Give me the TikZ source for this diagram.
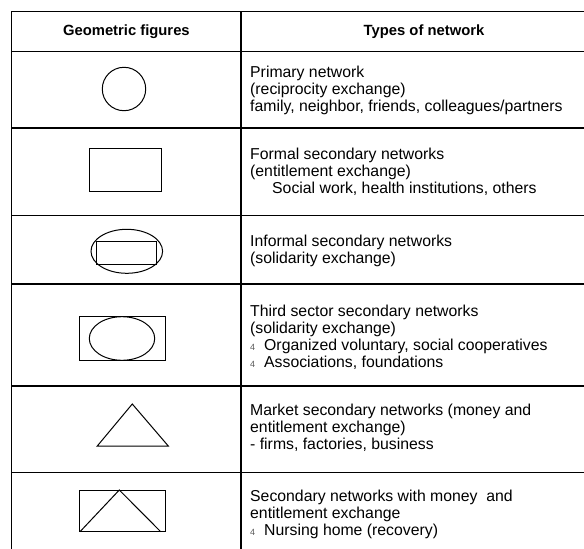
\documentclass[tikz,border=0pt]{standalone}
\usepackage{fontspec}
\setmainfont{Liberation Sans}
\definecolor{bulletgray}{RGB}{90,90,90}
\newcommand{\bul}{\makebox[14pt][l]{\fontsize{9}{9}\selectfont\color{bulletgray}4}}
\begin{document}
\begin{tikzpicture}[x=1pt,y=-1pt,
  grid/.style={line width=1.2pt},
  fig/.style={line width=1pt},
  cell/.style={anchor=west, align=left, inner sep=0pt, font=\fontsize{15.8}{17}\selectfont},
  head/.style={inner sep=0pt, font=\fontsize{14.8}{17}\selectfont\bfseries}]
\useasboundingbox (0,0) rectangle (584,549);
% table rules
\draw[grid] (584,11.7) -- (11.7,11.7) -- (11.7,549);
\draw[grid] (241,11.7) -- (241,549);
\foreach \yy in {51.3,128,215.7,284,386,472.3}
  \draw[grid] (11.7,\yy) -- (584,\yy);
% headers
\node[head] (h1) at (126.4,31.8) {Geometric figures};
\node[head] (h2) at (424,31.8) {Types of network};
% figures
\draw[fig] (124,89) circle [radius=21.7];
\draw[fig] (89.7,148.3) rectangle (161.3,191);
\draw[fig] (126.8,251.3) ellipse [x radius=35.8, y radius=22];
\draw[fig] (96,241) rectangle (156.7,264.3);
\draw[fig] (79,316.7) rectangle (165.3,360.3);
\draw[fig] (122,338.5) ellipse [x radius=32.7, y radius=21.8];
\draw[fig] (97.3,446) -- (132.3,404) -- (168.3,446) -- cycle;
\draw[fig] (79,490) rectangle (165.3,531.7);
\draw[fig] (80,531.7) -- (119.3,490) -- (160.7,531.7);
% texts
\node[cell] (t1) at (250,90) {Primary network\\(reciprocity exchange)\\family, neighbor, friends, colleagues/partners};
\node[cell] (t2) at (250,172) {Formal secondary networks\\(entitlement exchange)\\\hspace*{22pt}Social work, health institutions, others};
\node[cell] (t3) at (250,251) {Informal secondary networks\\(solidarity exchange)};
\node[cell] (t4) at (250,337) {Third sector secondary networks\\(solidarity exchange)\\\bul Organized voluntary, social cooperatives\\\bul Associations, foundations};
\node[cell] (t5) at (250,428) {Market secondary networks (money and\\entitlement exchange)\\- firms, factories, business};
\node[cell] (t6) at (250,514) {Secondary networks with money\ \ and\\entitlement exchange\\\bul Nursing home (recovery)};
\end{tikzpicture}
\end{document}
